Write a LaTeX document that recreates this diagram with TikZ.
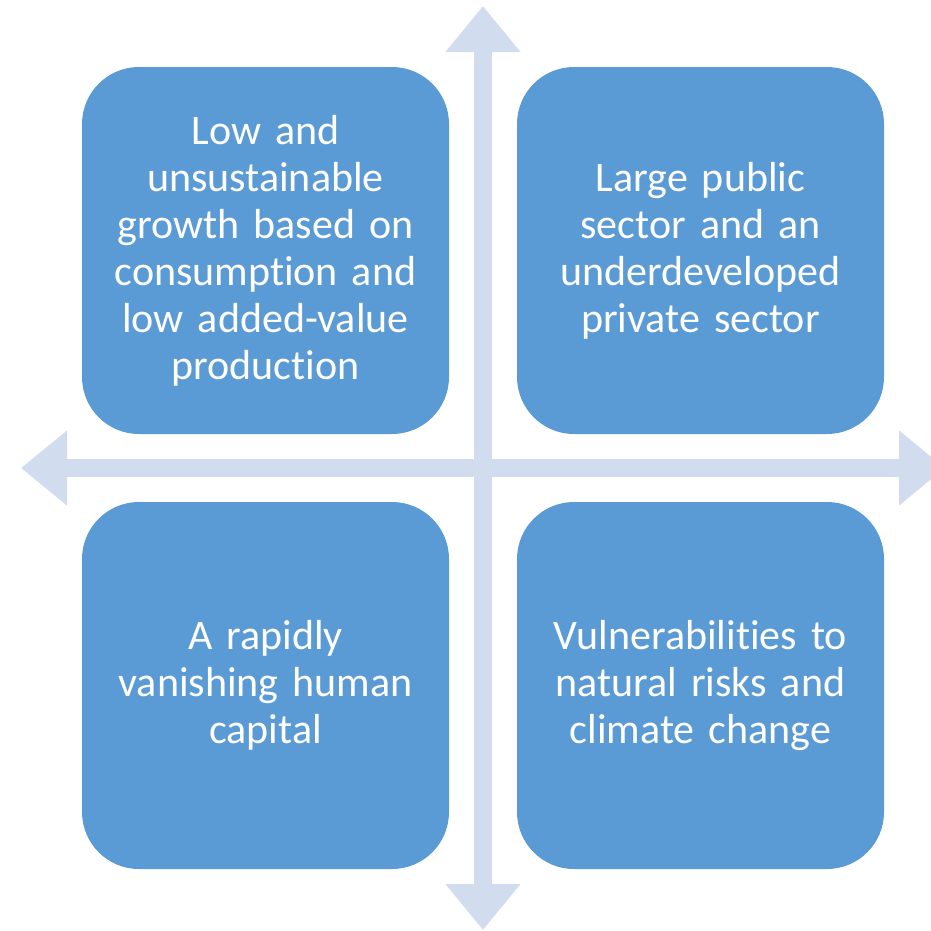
\documentclass[tikz,border=0pt]{standalone}
\usepackage{fontspec}
\setmainfont{Carlito}[Ligatures=NoCommon]
\usetikzlibrary{arrows.meta}
\definecolor{boxblue}{RGB}{91,155,213}
\definecolor{axisblue}{RGB}{209,220,238}
\tikzset{quad/.style={fill=boxblue, rounded corners=57pt, minimum width=367pt, minimum height=367pt,
    text width=340pt, align=center, text=white, font=\fontsize{42}{47}\selectfont},
  axis/.style={draw=axisblue, line width=18pt,
    {Triangle[width=72pt,length=46pt]}-{Triangle[width=72pt,length=46pt]}}}

\begin{document}
\begin{tikzpicture}[x=1pt, y=-1pt]
  \useasboundingbox (0,0) rectangle (931,930);
%% axes
  \coordinate (west) at (21,468);
  \coordinate (east) at (945,468);
  \coordinate (north) at (483,6);
  \coordinate (south) at (483,930);
  \draw[axis] (west) -- (east);
  \draw[axis] (north) -- (south);
%% quadrants
  \node[quad] (growth) at (265.5,250.5) {Low and\\unsustainable\\growth based on\\consumption and\\low added-value\\production};
  \node[quad] (sector) at (700.5,250.5) {Large public\\sector and an\\underdeveloped\\private sector};
  \node[quad] (capital) at (265.5,685.5) {A rapidly\\vanishing human\\capital};
  \node[quad] (climate) at (700.5,685.5) {Vulnerabilities to\\natural risks and\\climate change};
\end{tikzpicture}
\end{document}
